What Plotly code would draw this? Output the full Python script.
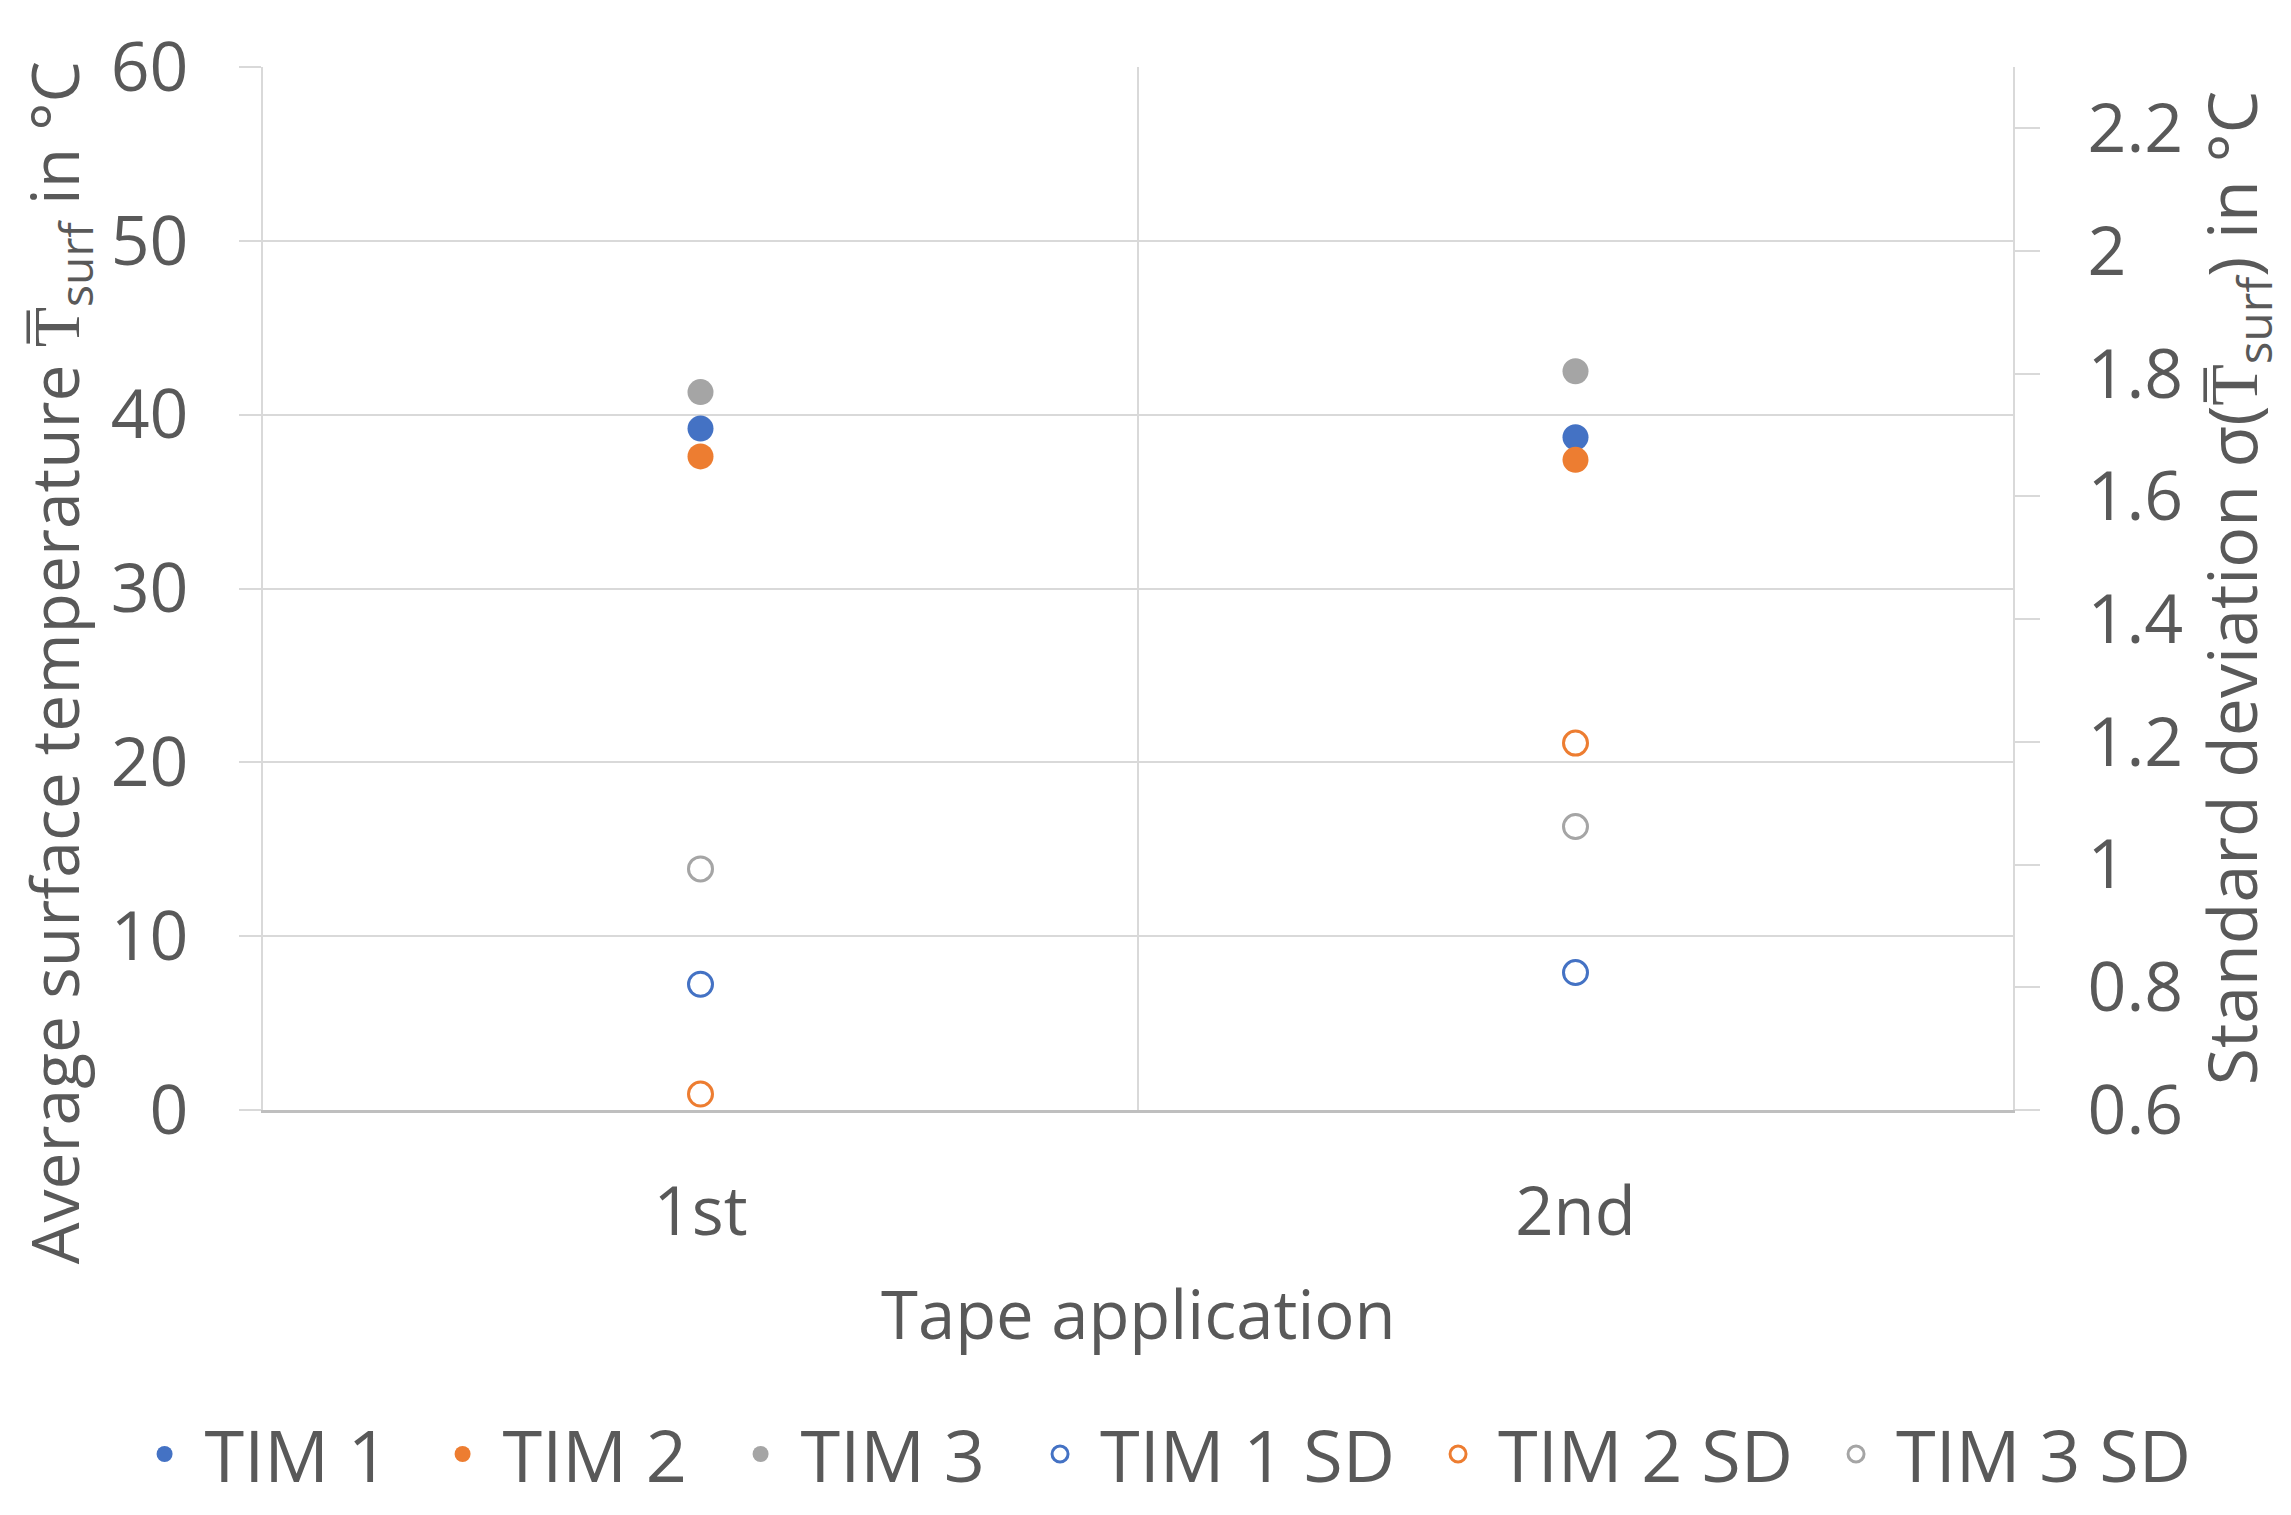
import plotly.graph_objects as go

categories = ["1st", "2nd"]
cat_pos = [0.5, 1.5]
tim1 = [39.2, 38.7]
tim2 = [37.6, 37.4]
tim3 = [41.3, 42.5]
tim1_sd = [0.805, 0.824]
tim2_sd = [0.626, 1.198]
tim3_sd = [0.993, 1.062]

BLUE, ORANGE, GRAY = "#4472C4", "#ED7D31", "#A5A5A5"
FONT = "Open Sans"
TXT = "#595959"
GRID = "#D9D9D9"

fig = go.Figure()
for name, vals, col in [("TIM 1", tim1, BLUE), ("TIM 2", tim2, ORANGE), ("TIM 3", tim3, GRAY)]:
    fig.add_trace(go.Scatter(x=cat_pos, y=vals, mode="markers", name=name, legend="legend",
                             marker=dict(color=col, size=26, line=dict(width=0))))
for name, vals, col in [("TIM 1 SD", tim1_sd, BLUE), ("TIM 2 SD", tim2_sd, ORANGE), ("TIM 3 SD", tim3_sd, GRAY)]:
    fig.add_trace(go.Scatter(x=cat_pos, y=vals, mode="markers", name=name, yaxis="y2",
                             legend="legend2",
                             marker=dict(color="white", size=24, symbol="circle",
                                         line=dict(color=col, width=3))))

W, H = 2283, 1507
fig.update_layout(
    width=W, height=H,
    paper_bgcolor="white", plot_bgcolor="white",
    margin=dict(l=255, r=278, t=59, b=405, autoexpand=False),
    font=dict(family=FONT, color=TXT, size=67),
    xaxis=dict(range=[0, 2], tickmode="array", tickvals=cat_pos, ticktext=categories,
               showgrid=False, ticks="", showline=True, linecolor="#BFBFBF", linewidth=3,
               zeroline=False, ticklabelstandoff=42,
               tickfont=dict(size=67, color=TXT, family=FONT),
               minor=dict(tickmode="array", tickvals=[0, 1, 2], showgrid=True,
                          gridcolor=GRID, gridwidth=2, ticks="")),
    yaxis=dict(range=[0, 60], tickvals=[0, 10, 20, 30, 40, 50, 60], showgrid=True,
               gridcolor=GRID, gridwidth=2, zeroline=False, ticks="outside",
               showline=True, linecolor=GRID, linewidth=2,
               ticklen=22, tickcolor=GRID, tickwidth=2, ticklabelstandoff=37,
               tickfont=dict(size=68, color=TXT, family=FONT)),
    yaxis2=dict(range=[0.6, 2.3], tickvals=[0.6, 0.8, 1.0, 1.2, 1.4, 1.6, 1.8, 2.0, 2.2],
                ticktext=["0.6", "0.8", "1", "1.2", "1.4", "1.6", "1.8", "2", "2.2"],
                overlaying="y", side="right", showgrid=False, zeroline=False,
                showline=True, linecolor=GRID, linewidth=2,
                ticks="outside", ticklen=25, tickcolor=GRID, tickwidth=2,
                ticklabelstandoff=34, tickfont=dict(size=68, color=TXT, family=FONT)),
    legend=dict(orientation="h", x=-0.0791, xanchor="left", y=-0.33, yanchor="middle",
                font=dict(size=72, color=TXT, family=FONT), itemsizing="trace",
                itemwidth=70, entrywidth=213, entrywidthmode="pixels",
                bgcolor="rgba(0,0,0,0)"),
    legend2=dict(orientation="h", x=0.4326, xanchor="left", y=-0.33, yanchor="middle",
                 font=dict(size=72, color=TXT, family=FONT), itemsizing="trace",
                 itemwidth=70, entrywidth=313, entrywidthmode="pixels",
                 bgcolor="rgba(0,0,0,0)"),
    showlegend=True,
)

fig.add_annotation(text="Average surface temperature T\u0305<sub>surf</sub> in °C",
                   xref="paper", yref="paper", x=-0.117, y=0.4286, textangle=-90,
                   showarrow=False, font=dict(size=66, color=TXT, family=FONT),
                   xanchor="center", yanchor="middle")
fig.add_annotation(text="Standard deviation σ(T\u0305<sub>surf</sub>) in °C",
                   xref="paper", yref="paper", x=1.127, y=0.5005, textangle=-90,
                   showarrow=False, font=dict(size=68, color=TXT, family=FONT),
                   xanchor="center", yanchor="middle")
fig.add_annotation(text="Tape application", xref="paper", yref="paper",
                   x=0.5, y=-0.195, showarrow=False,
                   font=dict(size=67, color=TXT, family=FONT),
                   xanchor="center", yanchor="middle")

fig.write_html("out.html")
